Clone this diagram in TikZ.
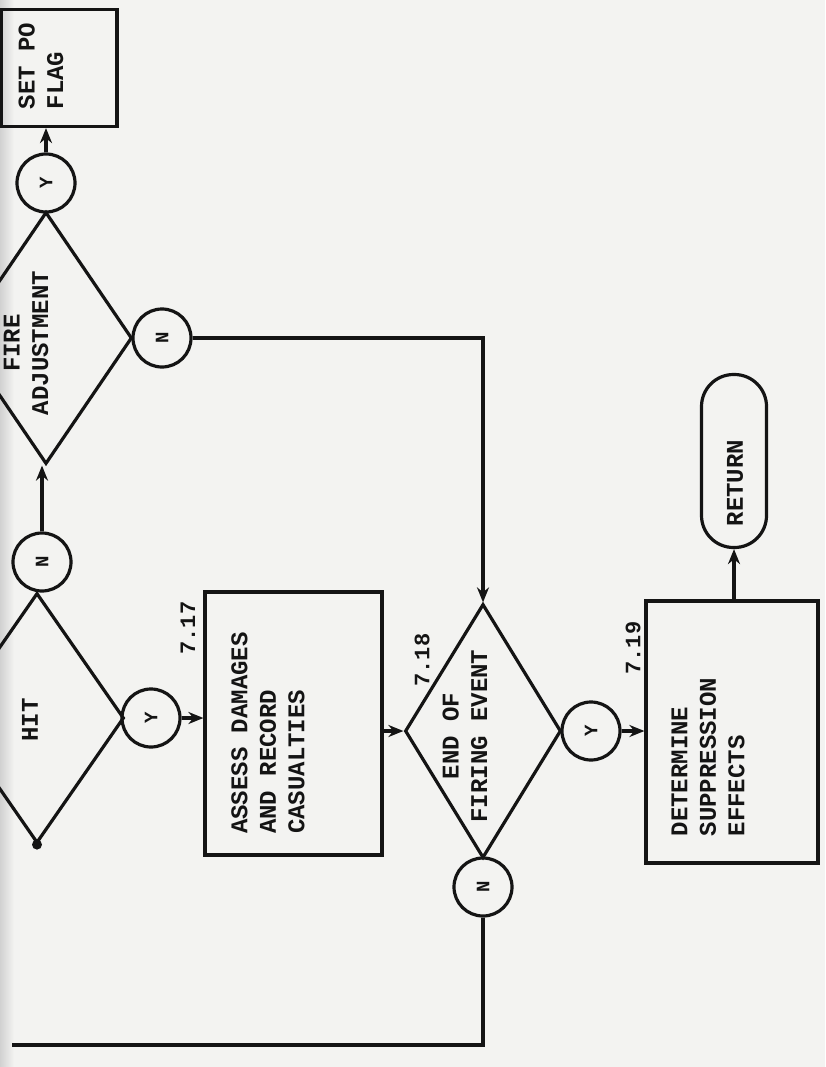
\documentclass[tikz,border=0pt]{standalone}
\usepackage{fontspec}
\usepackage{graphicx}
\setmonofont{Liberation Mono}
\usetikzlibrary{shapes.geometric,arrows.meta}
\definecolor{paper}{RGB}{243,243,241}
\definecolor{ink}{RGB}{20,20,20}
\begin{document}
\begin{tikzpicture}[x=1pt,y=-1pt,line width=3.2pt,draw=ink,
  txt/.style={font=\ttfamily\bfseries\fontsize{24}{28.5}\selectfont,text=ink,rotate=90,align=left,inner sep=0pt},
  ctxt/.style={txt,align=center},
  lbl/.style={font=\ttfamily\bfseries\fontsize{22}{25}\selectfont,text=ink,rotate=90,inner sep=0pt},
  conn/.style={circle,draw,minimum size=58pt,inner sep=0pt,font=\ttfamily\bfseries\fontsize{19}{22}\selectfont,text=ink},
  dec/.style={diamond,draw,inner sep=0pt},
  proc/.style={rectangle,draw,inner sep=0pt},
  term/.style={rectangle,draw,rounded corners=32pt,inner sep=0pt},
  arr/.style={-{Stealth[length=15pt,width=12pt]}}]
\useasboundingbox (0,0) rectangle (825,1067);
\fill[paper] (0,0) rectangle (825,1067);
\shade[left color=black!18,right color=paper] (0,0) rectangle (14,1067);
\clip (0,0) rectangle (825,1067);

% boxes
\node[proc,minimum width=116pt,minimum height=117pt] (setpo) at (59,68) {};
\node[txt] (setpotxt) at (41,66) {SET PO\\FLAG};

\node[proc,minimum width=177pt,minimum height=263pt] (assess) at (293.5,723.5) {};
\node[txt] (assesstxt) at (268,733) {ASSESS DAMAGES\\AND RECORD\\CASUALTIES};

\node[proc,minimum width=172pt,minimum height=262pt] (det) at (732,732) {};
\node[txt] (dettxt) at (708,757) {DETERMINE\\SUPPRESSION\\EFFECTS};

\node[term,minimum width=65pt,minimum height=173pt] (ret) at (734,461) {};
\node[txt] (rettxt) at (735,483) {RETURN};

% decisions
\node[dec,minimum width=172pt,minimum height=252pt] (fa) at (46,338) {};
\node[ctxt] (fatxt) at (26,343) {FIRE\\ADJUSTMENT};

\node[dec,minimum width=174pt,minimum height=250pt] (hit) at (37,718) {};
\node[ctxt] (hittxt) at (30,720) {HIT};

\node[dec,minimum width=156pt,minimum height=254pt] (end) at (483,731) {};
\node[ctxt] (endtxt) at (465,736) {END OF\\FIRING EVENT};

% connectors (Y/N)
\node[conn] (y1) at (46,183) {\rotatebox{90}{Y}};
\node[conn] (n1) at (162,338) {\rotatebox{90}{N}};
\node[conn] (n2) at (42,562) {\rotatebox{90}{N}};
\node[conn] (y2) at (151,718) {\rotatebox{90}{Y}};
\node[conn] (y3) at (591,731) {\rotatebox{90}{Y}};
\node[conn] (n3) at (483,887) {\rotatebox{90}{N}};

% labels
\node[lbl] (l717) at (188,628) {7.17};
\node[lbl] (l718) at (422,660) {7.18};
\node[lbl] (l719) at (633,648) {7.19};

% flow
\draw[arr] (y1.north) -- (y1.north |- setpo.south);
\draw[arr] (n2.north) -- (n2.north |- fa.south);
\draw[arr] (n1.east) -| (end.north);
\draw[arr] (y2.east) -- (y2.east -| assess.west);
\draw[arr] (assess.east |- end.west) -- (end.west);
\draw[arr] (y3.east) -- (y3.east -| det.west);
\draw[arr] (det.north -| ret.south) -- (ret.south);
\coordinate (loopend) at (12,1045);
\draw (n3.south) |- (loopend);
\fill[ink] (hit.south) circle (5pt);
\end{tikzpicture}
\end{document}
